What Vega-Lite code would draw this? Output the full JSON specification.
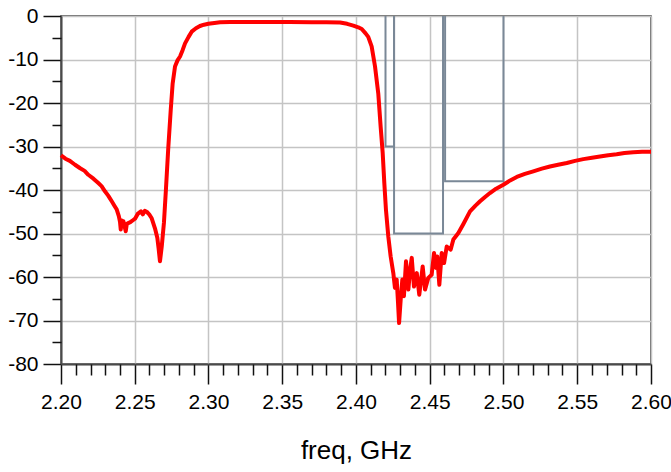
{
  "$schema": "https://vega.github.io/schema/vega-lite/v6.json",
  "width": 590,
  "height": 348,
  "autosize": {"type": "none"},
  "padding": {"left": 61, "top": 16, "right": 20, "bottom": 108},
  "config": {
    "view": {"stroke": "#3a3a3a", "strokeWidth": 1.5},
    "font": "Liberation Sans",
    "axis": {
      "labelFont": "Liberation Sans",
      "titleFont": "Liberation Sans",
      "labelColor": "#000000",
      "titleColor": "#000000",
      "tickColor": "#111111",
      "tickWidth": 1.5,
      "domainColor": "#4a4a4a",
      "domainWidth": 2,
      "gridColor": "#c4c4c4",
      "gridWidth": 1.5,
      "labelFlush": false,
      "labelOverlap": false,
      "labelBound": false
    }
  },
  "datasets": {
    "s21": [
      {"f": 2.2000, "v": -32.0}, {"f": 2.2030, "v": -32.8}, {"f": 2.2060, "v": -33.3}, {"f": 2.2095, "v": -34.2},
      {"f": 2.2130, "v": -35.0}, {"f": 2.2160, "v": -35.6}, {"f": 2.2185, "v": -36.5}, {"f": 2.2220, "v": -37.4},
      {"f": 2.2253, "v": -38.4}, {"f": 2.2275, "v": -39.1}, {"f": 2.2298, "v": -40.3}, {"f": 2.2320, "v": -41.3},
      {"f": 2.2344, "v": -42.6}, {"f": 2.2360, "v": -43.5}, {"f": 2.2378, "v": -44.5}, {"f": 2.2392, "v": -46.0},
      {"f": 2.2400, "v": -47.3}, {"f": 2.2405, "v": -49.1}, {"f": 2.2412, "v": -47.0}, {"f": 2.2418, "v": -48.0},
      {"f": 2.2423, "v": -47.2}, {"f": 2.2430, "v": -48.2}, {"f": 2.2439, "v": -49.5}, {"f": 2.2446, "v": -47.8},
      {"f": 2.2456, "v": -47.6}, {"f": 2.2470, "v": -47.4}, {"f": 2.2490, "v": -46.9}, {"f": 2.2502, "v": -46.6},
      {"f": 2.2520, "v": -45.5}, {"f": 2.2542, "v": -44.9}, {"f": 2.2555, "v": -45.6}, {"f": 2.2568, "v": -44.8},
      {"f": 2.2581, "v": -45.0}, {"f": 2.2598, "v": -45.6}, {"f": 2.2615, "v": -46.5}, {"f": 2.2637, "v": -48.8},
      {"f": 2.2653, "v": -51.0}, {"f": 2.2662, "v": -53.5}, {"f": 2.2671, "v": -56.4}, {"f": 2.2683, "v": -53.0},
      {"f": 2.2698, "v": -47.5}, {"f": 2.2712, "v": -39.5}, {"f": 2.2727, "v": -30.5}, {"f": 2.2744, "v": -21.6},
      {"f": 2.2757, "v": -15.5}, {"f": 2.2773, "v": -11.6}, {"f": 2.2790, "v": -10.2}, {"f": 2.2807, "v": -9.3},
      {"f": 2.2825, "v": -7.8}, {"f": 2.2841, "v": -6.3}, {"f": 2.2865, "v": -4.8}, {"f": 2.2886, "v": -3.6},
      {"f": 2.2915, "v": -2.8}, {"f": 2.2942, "v": -2.3}, {"f": 2.2970, "v": -2.0}, {"f": 2.2999, "v": -1.8},
      {"f": 2.3040, "v": -1.6}, {"f": 2.3078, "v": -1.45}, {"f": 2.3146, "v": -1.4}, {"f": 2.3250, "v": -1.4},
      {"f": 2.3400, "v": -1.4}, {"f": 2.3550, "v": -1.4}, {"f": 2.3700, "v": -1.45}, {"f": 2.3800, "v": -1.45},
      {"f": 2.3892, "v": -1.5}, {"f": 2.3940, "v": -1.8}, {"f": 2.3982, "v": -2.2}, {"f": 2.4015, "v": -2.6},
      {"f": 2.4039, "v": -3.0}, {"f": 2.4065, "v": -4.0}, {"f": 2.4083, "v": -4.8}, {"f": 2.4106, "v": -7.0},
      {"f": 2.4129, "v": -11.6}, {"f": 2.4151, "v": -17.8}, {"f": 2.4167, "v": -25.4}, {"f": 2.4181, "v": -31.5},
      {"f": 2.4192, "v": -38.4}, {"f": 2.4203, "v": -44.5}, {"f": 2.4219, "v": -50.7}, {"f": 2.4235, "v": -55.3},
      {"f": 2.4253, "v": -59.1}, {"f": 2.4264, "v": -62.5}, {"f": 2.4276, "v": -60.6}, {"f": 2.4285, "v": -66.0},
      {"f": 2.4292, "v": -70.6}, {"f": 2.4303, "v": -65.2}, {"f": 2.4314, "v": -60.6}, {"f": 2.4325, "v": -64.4},
      {"f": 2.4339, "v": -56.4}, {"f": 2.4355, "v": -62.9}, {"f": 2.4366, "v": -58.5}, {"f": 2.4378, "v": -55.6},
      {"f": 2.4393, "v": -62.2}, {"f": 2.4412, "v": -59.1}, {"f": 2.4429, "v": -64.1}, {"f": 2.4452, "v": -57.6},
      {"f": 2.4468, "v": -62.9}, {"f": 2.4490, "v": -60.2}, {"f": 2.4513, "v": -59.5}, {"f": 2.4529, "v": -54.5},
      {"f": 2.4542, "v": -57.9}, {"f": 2.4551, "v": -55.3}, {"f": 2.4565, "v": -61.8}, {"f": 2.4581, "v": -54.5},
      {"f": 2.4597, "v": -56.8}, {"f": 2.4615, "v": -53.0}, {"f": 2.4642, "v": -53.7}, {"f": 2.4660, "v": -51.4},
      {"f": 2.4694, "v": -49.9}, {"f": 2.4728, "v": -47.8}, {"f": 2.4773, "v": -44.9}, {"f": 2.4810, "v": -43.6},
      {"f": 2.4841, "v": -42.6}, {"f": 2.4875, "v": -41.6}, {"f": 2.4908, "v": -40.7}, {"f": 2.4950, "v": -39.7},
      {"f": 2.4999, "v": -38.8}, {"f": 2.5045, "v": -37.8}, {"f": 2.5090, "v": -37.0}, {"f": 2.5145, "v": -36.3},
      {"f": 2.5202, "v": -35.7}, {"f": 2.5260, "v": -35.1}, {"f": 2.5315, "v": -34.6}, {"f": 2.5370, "v": -34.2},
      {"f": 2.5429, "v": -33.8}, {"f": 2.5485, "v": -33.3}, {"f": 2.5541, "v": -32.9}, {"f": 2.5600, "v": -32.6},
      {"f": 2.5654, "v": -32.3}, {"f": 2.5710, "v": -32.0}, {"f": 2.5767, "v": -31.8}, {"f": 2.5820, "v": -31.5},
      {"f": 2.5880, "v": -31.3}, {"f": 2.5940, "v": -31.2}, {"f": 2.6000, "v": -31.2}
    ],
    "mask": [
      {"m": "m1", "i": 0, "f": 2.4200, "v": 0}, {"m": "m1", "i": 1, "f": 2.4200, "v": -30},
      {"m": "m1", "i": 2, "f": 2.4258, "v": -30}, {"m": "m1", "i": 3, "f": 2.4258, "v": 0},
      {"m": "m2", "i": 0, "f": 2.4258, "v": 0}, {"m": "m2", "i": 1, "f": 2.4258, "v": -50},
      {"m": "m2", "i": 2, "f": 2.4590, "v": -50}, {"m": "m2", "i": 3, "f": 2.4590, "v": 0},
      {"m": "m3", "i": 0, "f": 2.4604, "v": 0}, {"m": "m3", "i": 1, "f": 2.4604, "v": -38},
      {"m": "m3", "i": 2, "f": 2.5000, "v": -38}, {"m": "m3", "i": 3, "f": 2.5000, "v": 0}
    ]
  },
  "layer": [
    {
      "data": {"name": "mask"},
      "mark": {"type": "line", "color": "#7a8897", "strokeWidth": 2},
      "encoding": {
        "x": {
          "field": "f", "type": "quantitative",
          "scale": {"domain": [2.2, 2.6], "nice": false, "zero": false},
          "axis": {
            "orient": "bottom",
            "values": [2.2, 2.25, 2.3, 2.35, 2.4, 2.45, 2.5, 2.55, 2.6],
            "format": ".2f",
            "tickSize": 20,
            "labelPadding": 7,
            "labelFontSize": 21,
            "grid": true,
            "domain": true,
            "title": "freq, GHz",
            "titleFontSize": 26,
            "titleFontWeight": "normal",
            "titlePadding": 25
          }
        },
        "y": {
          "field": "v", "type": "quantitative",
          "scale": {"domain": [-80, 0], "nice": false, "zero": false},
          "axis": {
            "orient": "left",
            "values": [0, -10, -20, -30, -40, -50, -60, -70, -80],
            "labelExpr": "datum.value == 0 ? '0' : '-' + abs(datum.value)",
            "tickSize": 18,
            "labelPadding": 5,
            "labelFontSize": 21,
            "grid": true,
            "domain": true,
            "title": null
          }
        },
        "detail": {"field": "m"},
        "order": {"field": "i", "type": "quantitative"}
      }
    },
    {
      "data": {"name": "s21"},
      "mark": {"type": "line", "color": "#ff0000", "strokeWidth": 4, "strokeJoin": "round"},
      "encoding": {
        "x": {
          "field": "f", "type": "quantitative",
          "scale": {"domain": [2.2, 2.6], "nice": false, "zero": false},
          "axis": {
            "orient": "bottom",
            "values": [2.21, 2.22, 2.23, 2.24, 2.26, 2.27, 2.28, 2.29, 2.31, 2.32, 2.33, 2.34, 2.36, 2.37, 2.38, 2.39, 2.41, 2.42, 2.43, 2.44, 2.46, 2.47, 2.48, 2.49, 2.51, 2.52, 2.53, 2.54, 2.56, 2.57, 2.58, 2.59],
            "tickSize": 11,
            "labels": false,
            "grid": false,
            "domain": false,
            "title": null
          }
        },
        "y": {
          "field": "v", "type": "quantitative",
          "scale": {"domain": [-80, 0], "nice": false, "zero": false},
          "axis": {
            "orient": "left",
            "values": [-5, -15, -25, -35, -45, -55, -65, -75],
            "tickSize": 9,
            "labels": false,
            "grid": false,
            "domain": false,
            "title": null
          }
        }
      }
    }
  ],
  "resolve": {"axis": {"x": "independent", "y": "independent"}}
}
